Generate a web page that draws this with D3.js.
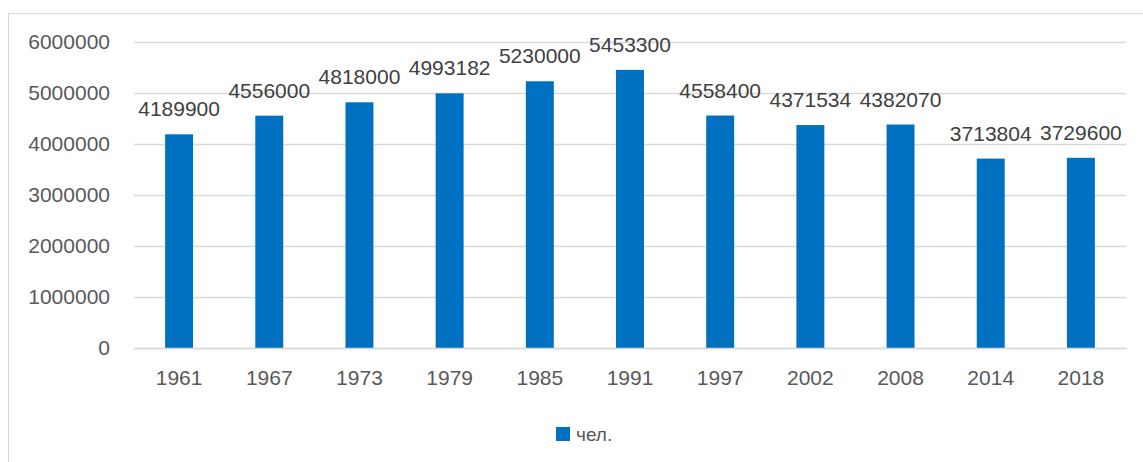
<!DOCTYPE html>
<html><head><meta charset="utf-8">
<script src="https://cdn.jsdelivr.net/npm/d3@7"></script>
<style>body{margin:0;background:#fff}svg{display:block}</style>
</head><body>
<svg id="c" width="1143" height="462"></svg>
<script>
const categories = ["1961","1967","1973","1979","1985","1991","1997","2002","2008","2014","2018"];
const values = [4189900,4556000,4818000,4993182,5230000,5453300,4558400,4371534,4382070,3713804,3729600];
const yTicks = [0,1000000,2000000,3000000,4000000,5000000,6000000];
const seriesName = "чел.";

const svg = d3.select("#c");
const font = "'Liberation Sans', Arial, sans-serif";
const m = {l:134, r:1126, t:42, b:348};

svg.append("rect").attr("x",8.5).attr("y",13.5).attr("width",1200).attr("height",500)
  .attr("fill","none").attr("stroke","#d9d9d9").attr("stroke-width",1);

const x = d3.scaleBand().domain(categories).range([m.l,m.r]).paddingInner(0.69).paddingOuter(0.345);
const y = d3.scaleLinear().domain([0,6000000]).range([m.b,m.t]);

const gy = svg.append("g").attr("transform",`translate(${m.l},0)`)
  .call(d3.axisLeft(y).tickValues(yTicks).tickSize(-(m.r-m.l)).tickPadding(24).tickFormat(d3.format("d")));
gy.select(".domain").remove();
gy.selectAll("line").attr("stroke","#d9d9d9").attr("stroke-width",1.3);
gy.selectAll("text").attr("fill","#595959").style("font-family",font).style("font-size","21px");

svg.append("g").selectAll("rect").data(values).join("rect")
  .attr("x",(d,i)=>x(categories[i])).attr("width",x.bandwidth())
  .attr("y",d=>y(d)).attr("height",d=>y(0)-y(d)).attr("fill","#0070C0");

const gx = svg.append("g").attr("transform",`translate(0,${m.b})`)
  .call(d3.axisBottom(x).tickSize(0).tickPadding(22));
gx.select(".domain").attr("stroke","#d9d9d9").attr("stroke-width",1.3);
gx.selectAll("text").attr("fill","#595959").style("font-family",font).style("font-size","21px");

svg.append("g").selectAll("text").data(values).join("text")
  .attr("x",(d,i)=>x(categories[i])+x.bandwidth()/2).attr("y",d=>y(d)-18)
  .attr("text-anchor","middle").attr("fill","#404040")
  .style("font-family",font).style("font-size","21px").text(d=>d);

const lg = svg.append("g");
lg.append("rect").attr("x",556).attr("y",427).attr("width",14).attr("height",14).attr("fill","#0070C0");
lg.append("text").attr("x",576).attr("y",441).attr("fill","#595959")
  .style("font-family",font).style("font-size","19px").text(seriesName);
</script>
</body></html>
